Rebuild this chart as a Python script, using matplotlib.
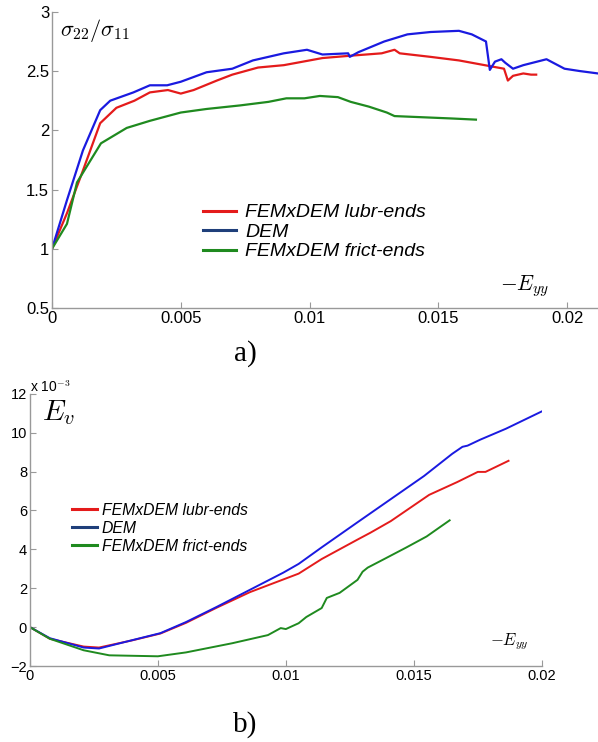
import numpy as np
import matplotlib
matplotlib.use('Agg')
import matplotlib.pyplot as plt
from matplotlib.lines import Line2D

plt.rcParams['font.family'] = ['Liberation Sans', 'DejaVu Sans']
plt.rcParams['mathtext.fontset'] = 'cm'

# ---- panel a) : sigma22/sigma11 vs -Eyy ----
dem_x = [0, 0.00058, 0.0012, 0.00187, 0.00226, 0.00316, 0.0038, 0.00447, 0.005, 0.006, 0.0070, 0.0078,
         0.009, 0.0099, 0.0105, 0.0115, 0.01156, 0.0119, 0.0129, 0.0138, 0.0147, 0.0158, 0.0163, 0.01685,
         0.0170, 0.0172, 0.01745, 0.0176, 0.0179, 0.0183, 0.0192, 0.0199, 0.0205, 0.0212]
dem_s = [1.0, 1.41, 1.83, 2.17, 2.25, 2.32, 2.38, 2.38, 2.41, 2.49, 2.52, 2.59,
         2.65, 2.68, 2.64, 2.65, 2.62, 2.66, 2.75, 2.81, 2.83, 2.84, 2.81, 2.75,
         2.51, 2.58, 2.60, 2.57, 2.52, 2.55, 2.60, 2.52, 2.50, 2.48]

lubr_x = [0, 0.00058, 0.0012, 0.00187, 0.0025, 0.0032, 0.0038, 0.0045, 0.005, 0.0055, 0.0064, 0.0070,
          0.0080, 0.009, 0.0105, 0.0116, 0.0128, 0.0133, 0.0135, 0.0147, 0.0158, 0.0168, 0.01755,
          0.0177, 0.0179, 0.0183, 0.0186, 0.0188]
lubr_s = [1.0, 1.30, 1.66, 2.06, 2.19, 2.25, 2.32, 2.34, 2.31, 2.34, 2.42, 2.47,
          2.53, 2.55, 2.61, 2.63, 2.65, 2.68, 2.65, 2.62, 2.59, 2.55, 2.52,
          2.42, 2.46, 2.48, 2.47, 2.47]

frict_x = [0, 0.00058, 0.00097, 0.0019, 0.0029, 0.0038, 0.005, 0.006, 0.0073, 0.0084, 0.0091, 0.0098,
           0.0104, 0.0111, 0.0116, 0.0123, 0.0130, 0.0133, 0.0144, 0.0155, 0.01646]
frict_s = [1.0, 1.21, 1.56, 1.89, 2.02, 2.08, 2.15, 2.18, 2.21, 2.24, 2.27, 2.27,
           2.29, 2.28, 2.24, 2.20, 2.15, 2.12, 2.11, 2.10, 2.09]

# ---- panel b) : Ev (x 1e-3) vs -Eyy ----
dem_bx = [0, 0.00078, 0.0021, 0.0027, 0.0040, 0.0051, 0.0061, 0.0073, 0.0086, 0.0099, 0.0105, 0.0114,
          0.0128, 0.0141, 0.0154, 0.0165, 0.0169, 0.0171, 0.0176, 0.0186, 0.0200]
dem_ev = [0, -0.57, -1.05, -1.1, -0.67, -0.31, 0.26, 1.04, 1.92, 2.8, 3.25, 4.1,
          5.39, 6.58, 7.77, 8.91, 9.27, 9.33, 9.64, 10.2, 11.09]

lubr_bx = [0, 0.00078, 0.0021, 0.0027, 0.0040, 0.0051, 0.0061, 0.0073, 0.0086, 0.0099, 0.0105, 0.0114,
           0.0128, 0.0133, 0.0141, 0.0156, 0.0167, 0.0175, 0.0178, 0.0187]
lubr_ev = [0, -0.6, -1.0, -1.05, -0.68, -0.33, 0.22, 1.0, 1.8, 2.45, 2.75, 3.5,
           4.5, 4.85, 5.45, 6.8, 7.46, 7.98, 7.98, 8.55]

frict_bx = [0, 0.00078, 0.0021, 0.0031, 0.0050, 0.0061, 0.0079, 0.0093, 0.0098, 0.0100, 0.0105, 0.0108,
            0.0114, 0.0116, 0.0121, 0.0128, 0.0130, 0.0132, 0.0138, 0.0147, 0.0155, 0.0159, 0.0164]
frict_ev = [0, -0.6, -1.19, -1.45, -1.50, -1.30, -0.83, -0.41, -0.05, -0.1, 0.2, 0.52,
            0.98, 1.5, 1.76, 2.43, 2.85, 3.06, 3.47, 4.09, 4.66, 5.03, 5.49]

labels = ['FEMxDEM lubr-ends', 'DEM', 'FEMxDEM frict-ends']
line_colors = ['#e41b1b', '#1a1ae0', '#1f8a1f']
legend_colors = ['#e41b1b', '#1f3f7a', '#1f8a1f']

fig = plt.figure(figsize=(5.98, 7.42), dpi=100)
ax1 = fig.add_axes([0.087, 0.585, 0.913, 0.399])
ax2 = fig.add_axes([0.050, 0.1024, 0.856, 0.367])

ax1.plot(lubr_x, lubr_s, color=line_colors[0], lw=1.6)
ax1.plot(dem_x, dem_s, color=line_colors[1], lw=1.6)
ax1.plot(frict_x, frict_s, color=line_colors[2], lw=1.6)
ax1.set_xlim(0, 0.0212)
ax1.set_ylim(0.5, 3)
ax1.set_xticks([0, 0.005, 0.01, 0.015, 0.02], ['0', '0.005', '0.01', '0.015', '0.02'])
ax1.set_yticks([0.5, 1, 1.5, 2, 2.5, 3], ['0.5', '1', '1.5', '2', '2.5', '3'])

ax2.plot(lubr_bx, lubr_ev, color=line_colors[0], lw=1.4)
ax2.plot(dem_bx, dem_ev, color=line_colors[1], lw=1.4)
ax2.plot(frict_bx, frict_ev, color=line_colors[2], lw=1.4)
ax2.set_xlim(0, 0.02)
ax2.set_ylim(-2, 12)
ax2.set_xticks([0, 0.005, 0.01, 0.015, 0.02], ['0', '0.005', '0.01', '0.015', '0.02'])
ax2.set_yticks(range(-2, 13, 2))

for ax, fs in ((ax1, 12), (ax2, 10.5)):
    for s in ['top', 'right']:
        ax.spines[s].set_visible(False)
    for s in ['left', 'bottom']:
        ax.spines[s].set_color('#999999')
        ax.spines[s].set_linewidth(1.0)
    ax.tick_params(direction='in', length=4, color='#999999', labelsize=fs, pad=2)

handles = [Line2D([], [], color=c, lw=2.2) for c in legend_colors]
ax1.legend(handles, labels, loc='upper left', bbox_to_anchor=(0.277, 0.352), frameon=False,
           borderpad=0, borderaxespad=0, handlelength=1.7, handletextpad=0.45, labelspacing=0.1,
           prop={'style': 'italic', 'size': 14})
ax2.legend(handles, labels, loc='upper left', bbox_to_anchor=(0.082, 0.60), frameon=False,
           borderpad=0, borderaxespad=0, handlelength=1.6, handletextpad=0.3, labelspacing=0.2,
           prop={'style': 'italic', 'size': 11.3})

ax1.text(0.015, 0.92, r'$\sigma_{22}/\sigma_{11}$', transform=ax1.transAxes, fontsize=16, va='baseline')
ax1.text(0.82, 0.06, r'$-E_{yy}$', transform=ax1.transAxes, fontsize=15.5, va='baseline')
ax2.text(0.023, 0.905, r'$E_{v}$', transform=ax2.transAxes, fontsize=21, va='baseline')
ax2.text(0.898, 0.077, r'$-E_{yy}$', transform=ax2.transAxes, fontsize=12, va='baseline')
ax2.text(0.0, 0.995, r'x 10$^{-3}$', transform=ax2.transAxes, fontsize=10, va='bottom', ha='left')

fig.text(0.41, 1 - 354 / 742, 'a)', family='Liberation Serif', fontsize=21, ha='center', va='center')
fig.text(0.41, 1 - 725 / 742, 'b)', family='Liberation Serif', fontsize=21, ha='center', va='center')

fig.savefig('out.png', dpi=100)
